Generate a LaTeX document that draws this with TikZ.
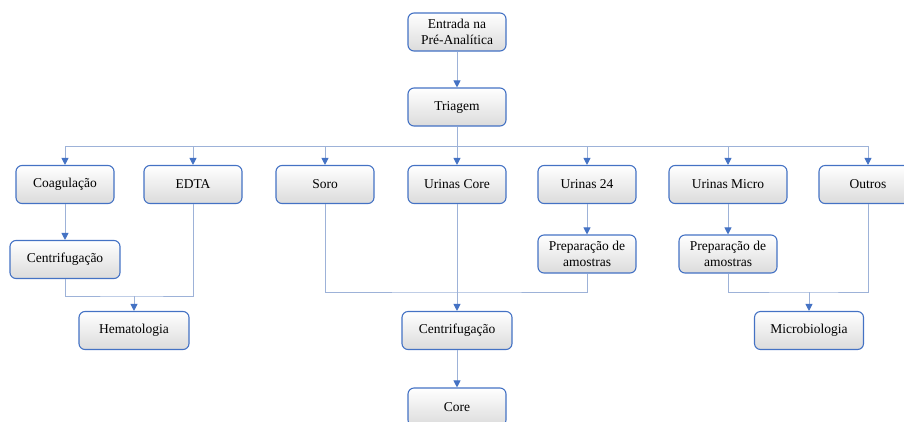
\documentclass[tikz,border=0pt]{standalone}
\usepackage{fontspec}
\setmainfont{Liberation Serif}
\usetikzlibrary{arrows.meta}
\definecolor{boxblue}{HTML}{4472C4}
\definecolor{lineblue}{HTML}{9DB2D8}
\begin{document}
\begin{tikzpicture}[x=1pt,y=1pt]
\tikzset{
  stage/.style={draw=boxblue, line width=1.1pt, rounded corners=6pt,
    top color=white, bottom color=gray!28, minimum width=98pt,
    minimum height=38pt, align=center, inner sep=2pt,
    font=\fontsize{13.5}{16}\selectfont},
  link/.style={draw=lineblue, line width=1pt},
  conn/.style={link, -{Triangle[length=7pt,width=7pt,color=boxblue]}}
}
\useasboundingbox (0,0) rectangle (904,-421);
\clip (0,0) rectangle (904,-421);
% top
\node [stage] (entrada) at (457,-32) {Entrada na\\Pré-Analítica};
\node [stage] (triagem) at (457,-107) {Triagem};
% first row
\node [stage] (coag) at (65,-184.5) {Coagulação};
\node [stage] (edta) at (193,-184.5) {EDTA};
\node [stage] (soro) at (325,-184.5) {Soro};
\node [stage] (ucore) at (457,-184.5) {Urinas Core};
\node [stage] (u24) at (587,-184.5) {Urinas 24};
\node [stage, minimum width=118pt] (umicro) at (728,-184.5) {Urinas Micro};
\node [stage] (outros) at (868,-184.5) {Outros};
% second row
\node [stage, minimum width=110pt] (centA) at (65,-259.5) {Centrifugação};
\node [stage] (prep24) at (587,-254) {Preparação de\\amostras};
\node [stage] (prepmicro) at (728,-254) {Preparação de\\amostras};
% third row
\node [stage, minimum width=110pt] (hemato) at (134,-330.5) {Hematologia};
\node [stage, minimum width=110pt] (centB) at (457,-330.5) {Centrifugação};
\node [stage, minimum width=109pt] (micro) at (809,-330.5) {Microbiologia};
\node [stage] (core) at (457,-407) {Core};
% junctions
\coordinate (bus) at (457,-146);
\coordinate (hj) at (134,-296);
\coordinate (cj) at (457,-292);
\coordinate (mj) at (809,-292);
% arrows
\draw [conn] (entrada) -- (triagem);
\draw [link] (triagem) -- (bus);
\draw [conn] (bus) -| (coag.north);
\draw [conn] (bus) -| (edta.north);
\draw [conn] (bus) -| (soro.north);
\draw [conn] (bus) -- (ucore);
\draw [conn] (bus) -| (u24.north);
\draw [conn] (bus) -| (umicro.north);
\draw [conn] (bus) -| (outros.north);
\draw [conn] (coag) -- (centA);
\draw [conn] (u24) -- (prep24);
\draw [conn] (umicro) -- (prepmicro);
\draw [link] (centA.south) |- (hj) -| (edta.south);
\draw [conn] (hj) -- (hemato);
\draw [link] (soro.south) |- (cj) -| (prep24.south);
\draw [conn] (ucore) -- (centB);
\draw [link] (prepmicro.south) |- (mj) -| (outros.south);
\draw [conn] (mj) -- (micro);
\draw [conn] (centB) -- (core);
\end{tikzpicture}
\end{document}
